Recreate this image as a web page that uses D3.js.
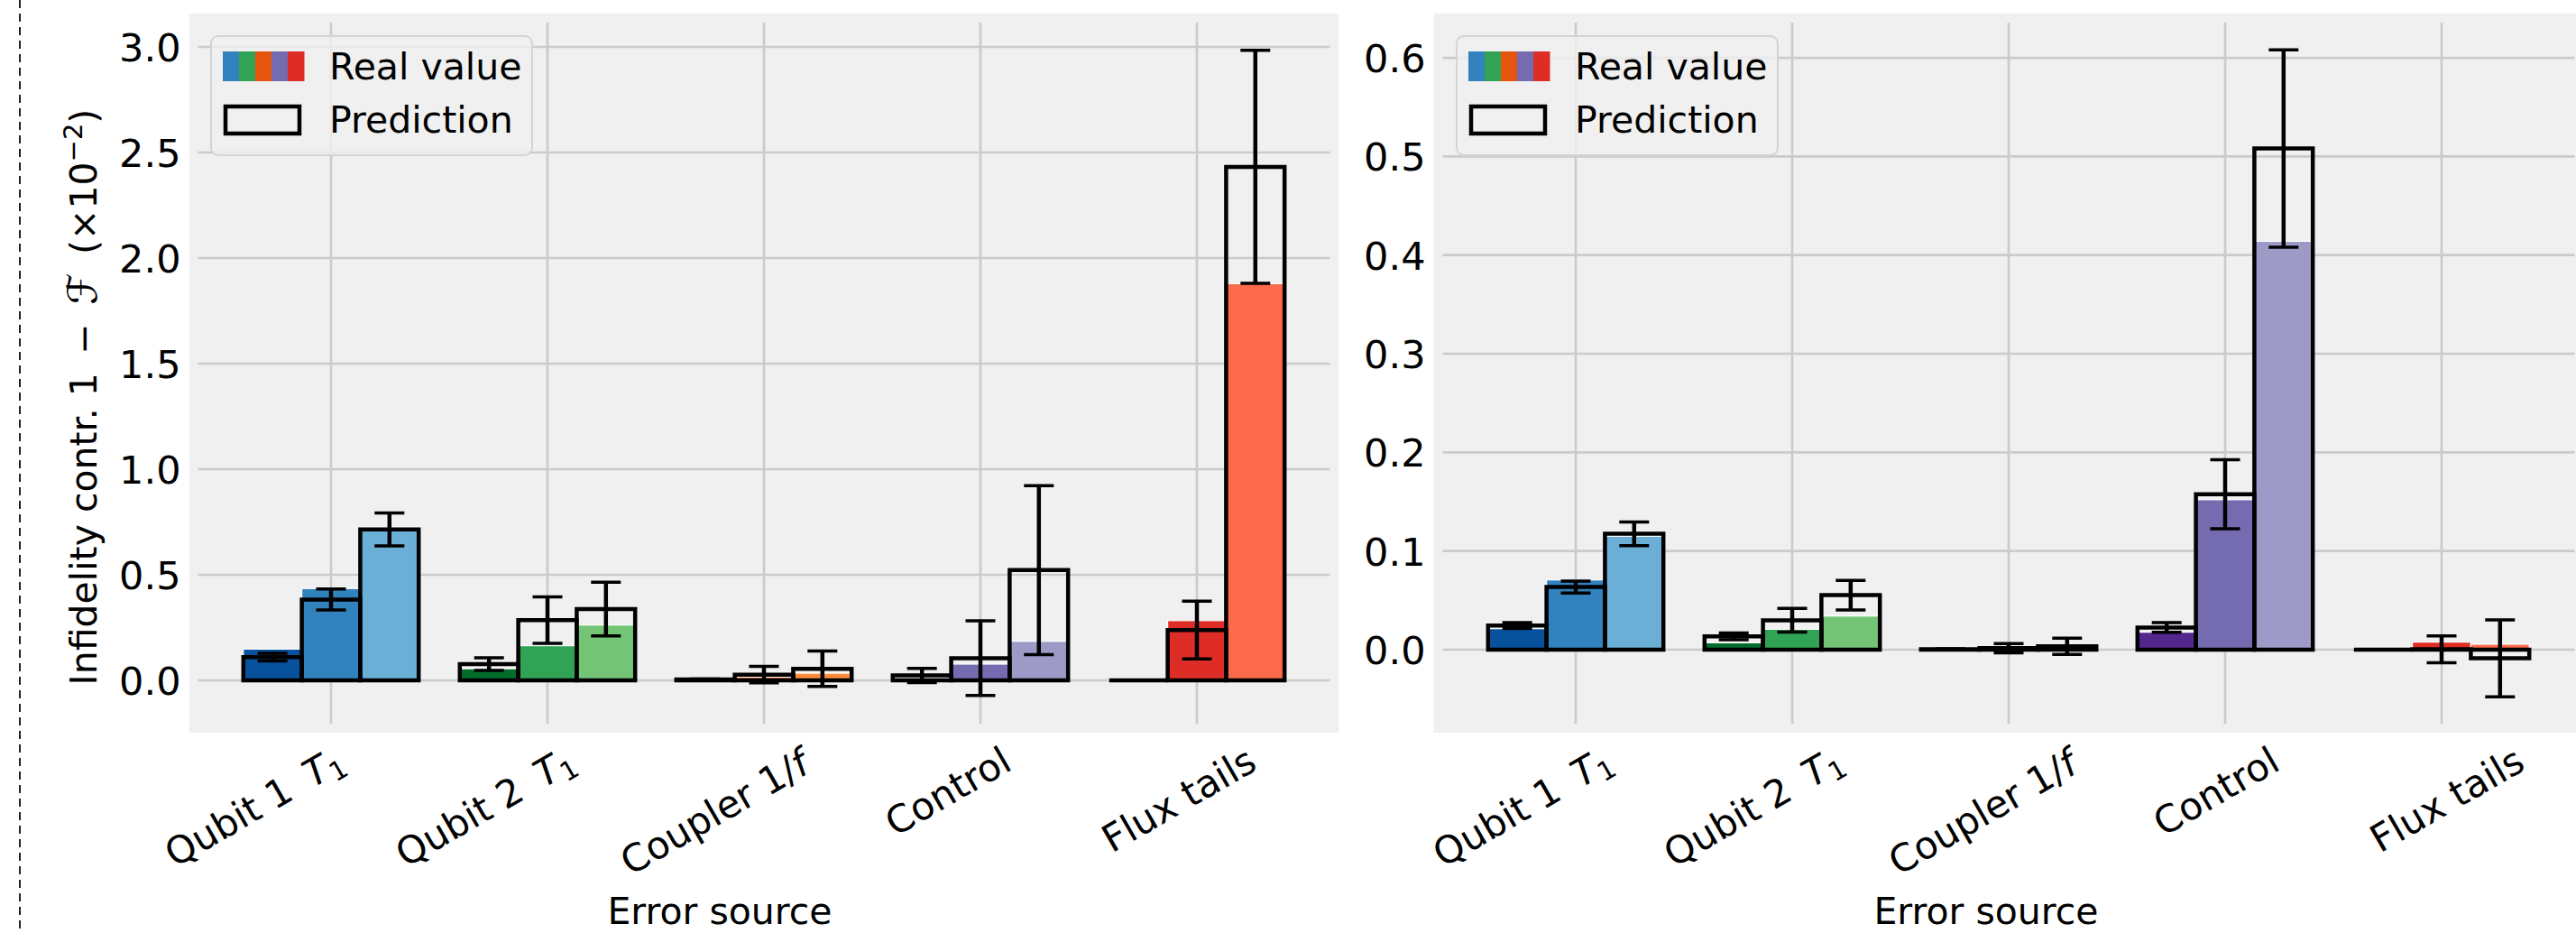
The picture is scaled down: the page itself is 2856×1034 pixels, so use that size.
<!DOCTYPE html>
<html>
<head>
<meta charset="utf-8">
<script src="https://cdnjs.cloudflare.com/ajax/libs/d3/7.8.5/d3.min.js"></script>
<style>
  html, body { margin: 0; padding: 0; background: #fff; }
  svg { display: block; font-family: 'DejaVu Sans', sans-serif; }
</style>
</head>
<body>
<svg id="chart" width="2856" height="1034"></svg>
<script>
// error sources along the x axis
const categories = ['Qubit 1 T1', 'Qubit 2 T1', 'Coupler 1/f', 'Control', 'Flux tails'];

// three shades per error source (dark, mid, light)
const shades = [
  ['#08519c', '#3182bd', '#6baed6'],
  ['#006d2c', '#31a354', '#74c476'],
  ['#a63603', '#e6550d', '#fd8d3c'],
  ['#54278f', '#756bb1', '#9e9ac8'],
  ['#a50f15', '#de2d26', '#fb6a4a']
];
const legendColors = ['#3182bd', '#31a354', '#e6550d', '#756bb1', '#de2d26'];

// left panel, infidelity contribution (x1e-2)
const realLeft = [
  [0.148, 0.435, 0.71],
  [0.055, 0.164, 0.262],
  [0.002, 0.015, 0.034],
  [0.012, 0.077, 0.185],
  [0.0, 0.283, 1.879]
];
const predLeft = [
  [0.11, 0.383, 0.715],
  [0.077, 0.285, 0.338],
  [0.004, 0.027, 0.055],
  [0.023, 0.105, 0.522],
  [0.0, 0.238, 2.432]
];
const errLeft = [
  [0.018, 0.05, 0.078],
  [0.03, 0.11, 0.127],
  [0.002, 0.039, 0.084],
  [0.034, 0.177, 0.4],
  [0.0, 0.137, 0.552]
];

// right panel
const realRight = [
  [0.0213, 0.0707, 0.115],
  [0.007, 0.0207, 0.0341],
  [0.0005, 0.001, 0.002],
  [0.0177, 0.152, 0.414],
  [0.0, 0.0077, 0.0055]
];
const predRight = [
  [0.0245, 0.0635, 0.1175],
  [0.0135, 0.0298, 0.0553],
  [0.0005, 0.0015, 0.0034],
  [0.0225, 0.1575, 0.508],
  [0.0, 0.0004, -0.0087]
];
const errRight = [
  [0.003, 0.006, 0.012],
  [0.0035, 0.012, 0.015],
  [0.0005, 0.0047, 0.0083],
  [0.005, 0.035, 0.1],
  [0.0, 0.0136, 0.039]
];

const ticksLeft = [0, 0.5, 1.0, 1.5, 2.0, 2.5, 3.0];
const ticksRight = [0, 0.1, 0.2, 0.3, 0.4, 0.5, 0.6];

var svg = d3.select('#chart');
var FONT = 'DejaVu Sans';

// dashed separator on the far left
svg.append('line')
  .attr('x1', 22).attr('x2', 22)
  .attr('y1', 0).attr('y2', 1034)
  .attr('stroke', '#222')
  .attr('stroke-width', 2)
  .attr('stroke-dasharray', '9,6');

var panels = [
  { left: 219.5, right: 1474.5, yDomain: [-0.2051, 3.1154], ticks: ticksLeft,
    real: realLeft, pred: predLeft, err: errLeft, labelRange: [283, 1307],
    xLabelX: 798, legendX: 234, yLabel: true },
  { left: 1599.5, right: 2854.5, yDomain: [-0.0750, 0.6357], ticks: ticksRight,
    real: realRight, pred: predRight, err: errRight, labelRange: [1689, 2713],
    xLabelX: 2202, legendX: 1615, yLabel: false }
];

var TOP = 25, BOTTOM = 802, BARW = 0.27;

panels.forEach(function (p) {
  var x = d3.scaleLinear().domain([-0.6146, 4.6146]).range([p.left, p.right]);
  var y = d3.scaleLinear().domain(p.yDomain).range([BOTTOM, TOP]);
  var g = svg.append('g');

  // background (a bit larger than the plotting area)
  g.append('rect')
    .attr('x', p.left - 10).attr('y', TOP - 10)
    .attr('width', p.right - p.left + 20).attr('height', BOTTOM - TOP + 20)
    .attr('fill', '#f0f0f0');

  // grid
  g.selectAll('.hgrid').data(p.ticks).enter().append('line')
    .attr('x1', p.left).attr('x2', p.right)
    .attr('y1', d => y(d)).attr('y2', d => y(d))
    .attr('stroke', '#cbcbcb').attr('stroke-width', 2.7);
  g.selectAll('.vgrid').data(categories).enter().append('line')
    .attr('x1', (d, i) => x(i)).attr('x2', (d, i) => x(i))
    .attr('y1', TOP).attr('y2', BOTTOM)
    .attr('stroke', '#cbcbcb').attr('stroke-width', 2.7);

  // flatten bars
  var bars = [];
  categories.forEach(function (c, i) {
    for (var j = 0; j < 3; j++) {
      bars.push({ i: i, j: j, xc: i + (j - 1) * BARW, real: p.real[i][j],
        pred: p.pred[i][j], err: p.err[i][j], color: shades[i][j] });
    }
  });

  // real values: filled bars
  g.selectAll('.real').data(bars).enter().append('rect')
    .attr('x', d => x(d.xc - BARW / 2))
    .attr('width', d => x(d.xc + BARW / 2) - x(d.xc - BARW / 2))
    .attr('y', d => y(Math.max(0, d.real)))
    .attr('height', d => Math.abs(y(0) - y(d.real)))
    .attr('fill', d => d.color)
    .attr('stroke', '#fff').attr('stroke-width', 1.2);

  // predictions: outlined bars (path so zero height still draws)
  g.selectAll('.pred').data(bars).enter().append('path')
    .attr('d', function (d) {
      var x0 = x(d.xc - BARW / 2), x1 = x(d.xc + BARW / 2);
      return 'M' + x0 + ',' + y(0) + 'V' + y(d.pred) + 'H' + x1 + 'V' + y(0) + 'Z';
    })
    .attr('fill', 'none').attr('stroke', '#000').attr('stroke-width', 4.5)
    .attr('stroke-linejoin', 'miter');

  // error bars
  var eb = g.selectAll('.err').data(bars).enter().append('g');
  eb.append('line')
    .attr('x1', d => x(d.xc)).attr('x2', d => x(d.xc))
    .attr('y1', d => y(d.pred - d.err)).attr('y2', d => y(d.pred + d.err))
    .attr('stroke', '#000').attr('stroke-width', 4.5);
  [-1, 1].forEach(function (s) {
    eb.append('line')
      .attr('x1', d => x(d.xc) - 16.5).attr('x2', d => x(d.xc) + 16.5)
      .attr('y1', d => y(d.pred + s * d.err)).attr('y2', d => y(d.pred + s * d.err))
      .attr('stroke', '#000').attr('stroke-width', 3.5);
  });

  // y axis labels
  var ya = g.append('g')
    .attr('transform', 'translate(' + p.left + ',0)')
    .call(d3.axisLeft(y).tickValues(p.ticks).tickFormat(d3.format('.1f'))
      .tickSize(0).tickPadding(19));
  ya.select('.domain').remove();
  ya.selectAll('text')
    .attr('font-family', FONT).attr('font-size', 43).attr('fill', '#000')
    .attr('dy', '0.36em');

  // x tick labels, rotated 30 degrees, box top just under the axes
  var lx = d3.scaleLinear().domain([0, 4]).range(p.labelRange);
  var ang = Math.PI / 6;
  categories.forEach(function (c, i) {
    var t = g.append('text')
      .attr('font-family', FONT).attr('font-size', 42).attr('fill', '#000');
    if (c.endsWith('T1')) {
      t.append('tspan').text(c.slice(0, -2) + '\u2009');
      t.append('tspan').attr('font-style', 'italic').text('T');
      t.append('tspan').attr('font-size', 29).attr('dy', 7).text('1');
    } else if (c.endsWith('/f')) {
      t.append('tspan').text(c.slice(0, -1));
      t.append('tspan').attr('font-style', 'italic').text('f');
    } else {
      t.text(c);
    }
    var b = t.node().getBBox();
    var H = b.width * Math.sin(ang) + b.height * Math.cos(ang);
    t.attr('transform', 'translate(' + lx(i) + ',' + (818 + H / 2) + ') rotate(-30) ' +
      'translate(' + (-(b.x + b.width / 2)) + ',' + (-(b.y + b.height / 2)) + ')');
  });

  // x axis title
  g.append('text')
    .attr('x', p.xLabelX).attr('y', 1024)
    .attr('text-anchor', 'middle')
    .attr('font-family', FONT).attr('font-size', 41).attr('fill', '#000')
    .text('Error source');

  // legend
  var lg = g.append('g').attr('transform', 'translate(' + p.legendX + ',40)');
  lg.append('rect')
    .attr('width', 356).attr('height', 132).attr('rx', 8)
    .attr('fill', '#f0f0f0').attr('fill-opacity', 0.8)
    .attr('stroke', '#d4d4d4').attr('stroke-width', 2);
  lg.selectAll('.sw').data(legendColors).enter().append('rect')
    .attr('x', (d, k) => 13 + k * 18).attr('y', 17)
    .attr('width', 18.5).attr('height', 33)
    .attr('fill', d => d);
  lg.append('rect')
    .attr('x', 16).attr('y', 78).attr('width', 82).attr('height', 30)
    .attr('fill', 'none').attr('stroke', '#000').attr('stroke-width', 4.5);
  lg.append('text').attr('x', 131).attr('y', 48)
    .attr('font-family', FONT).attr('font-size', 41).text('Real value');
  lg.append('text').attr('x', 131).attr('y', 107)
    .attr('font-family', FONT).attr('font-size', 41).text('Prediction');

  // y axis title (left panel only)
  if (p.yLabel) {
    var yl = svg.append('text')
      .attr('transform', 'translate(107,440) rotate(-90)')
      .attr('text-anchor', 'middle')
      .attr('font-family', FONT).attr('font-size', 41).attr('fill', '#000');
    yl.append('tspan').text('Infidelity contr. 1\u2002\u2212\u2002');
    yl.append('tspan').attr('font-size', 45).text('\u2131');
    yl.append('tspan').text('\u2002(\u00d710');
    yl.append('tspan').attr('font-size', 29).attr('dy', -16).text('\u22122');
    yl.append('tspan').attr('dy', 16).text(')');
  }
});
</script>
</body>
</html>
